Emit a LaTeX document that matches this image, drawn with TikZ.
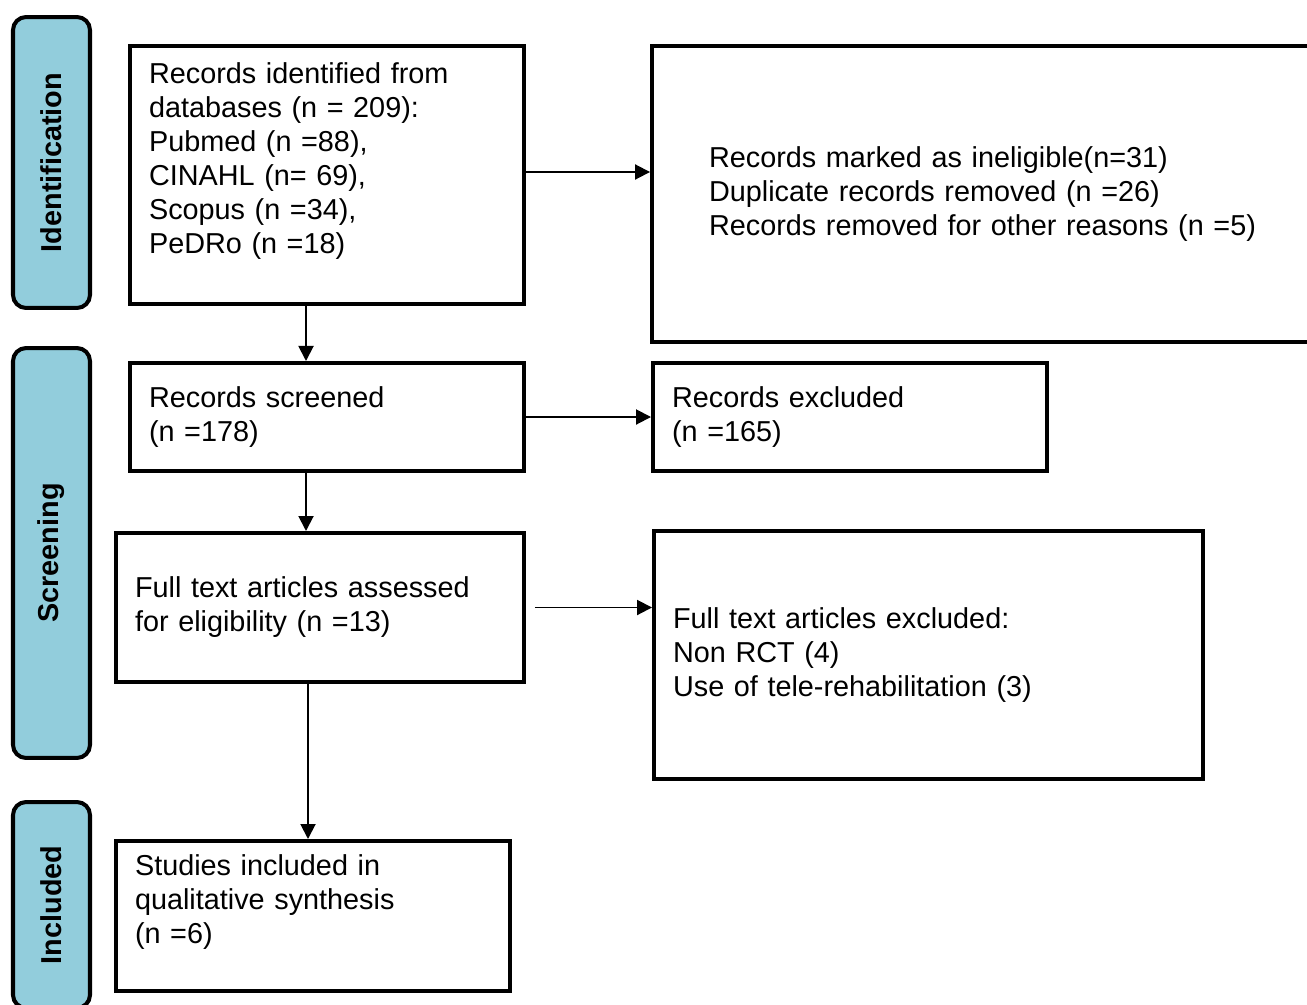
\documentclass[tikz,border=0pt]{standalone}
\usepackage{fontspec}
\setmainfont{Liberation Sans}
\usetikzlibrary{arrows.meta}
\definecolor{phaseblue}{RGB}{146,205,220}

\begin{document}
\begin{tikzpicture}[x=0.02cm, y=-0.02cm,
  every node/.style={font=\fontsize{16.4pt}{19.35pt}\selectfont},
  flowbox/.style={draw, line width=2.3pt, align=left, inner xsep=0.38cm, inner ysep=2pt},
  phase/.style={draw, line width=2.3pt, fill=phaseblue, rounded corners=0.26cm, rotate=90,
    minimum height=1.54cm, font=\fontsize{16.4pt}{19.35pt}\selectfont\bfseries},
  link/.style={line width=1.1pt, -{Triangle[length=0.3cm, width=0.3cm]}}]
  \useasboundingbox (0,0) rectangle (1307,1004);

  % Phases
  \node at (51.5,162.5) [phase, minimum width=5.82cm] (ident) {Identification};
  \node at (51.5,553) [phase, minimum width=8.2cm] (screen) {Screening};
  \node at (51.5,905) [phase, minimum width=4.12cm] (incl) {Included};

  % Boxes
  \node at (327,175) [flowbox, text width=7.12cm, minimum height=5.16cm] (recs)
    {Records identified from\\ databases (n = 209):\\ Pubmed (n =88),\\ CINAHL (n= 69),\\ Scopus (n =34),\\ PeDRo (n =18)\\ \mbox{}};
  \node at (985,194) [flowbox, text width=11.04cm, inner xsep=1.14cm, minimum height=5.92cm] (removed)
    {Records marked as ineligible(n=31)\\ Duplicate records removed (n =26)\\ Records removed for other reasons (n =5)};
  \node at (327,417) [flowbox, text width=7.12cm, minimum height=2.16cm] (screened)
    {Records screened\\ (n =178)};
  \node at (850,417) [flowbox, text width=7.12cm, minimum height=2.16cm] (excluded)
    {Records excluded\\ (n =165)};
  \node at (320,607.5) [flowbox, text width=7.4cm, minimum height=2.98cm] (fulltext)
    {Full text articles assessed\\ for eligibility (n =13)};
  \node at (928.5,655) [flowbox, text width=10.22cm, minimum height=4.96cm] (ftexcl)
    {Full text articles excluded:\\ Non RCT (4)\\ Use of tele-rehabilitation (3)};
  \node at (313,916) [flowbox, text width=7.12cm, minimum height=3cm] (studies)
    {Studies included in\\ qualitative synthesis\\ (n =6)\\ \mbox{}};

  % Arrows
  \draw[link] ([yshift=0.06cm]recs.east) -- ([yshift=0.06cm]recs.east -| removed.west);
  \draw[link] ([xshift=-0.42cm]recs.south) -- ([xshift=-0.42cm]screened.north);
  \draw[link] (screened.east) -- (excluded.west);
  \draw[link] ([xshift=-0.42cm]screened.south) -- ([xshift=-0.42cm]screened.south |- fulltext.north);
  \draw[link] ([xshift=0.18cm]fulltext.east) -- (fulltext.east -| ftexcl.west);
  \draw[link] ([xshift=-0.24cm]fulltext.south) -- ([xshift=-0.24cm]fulltext.south |- studies.north);

\end{tikzpicture}
\end{document}
